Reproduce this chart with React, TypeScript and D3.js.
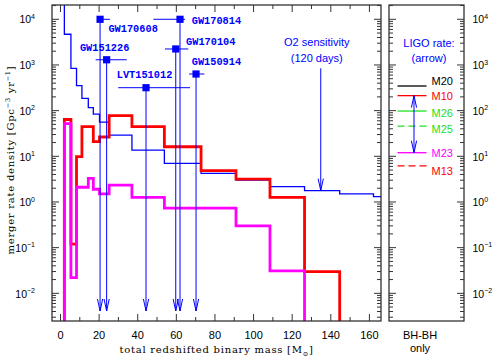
import React from "react";
import * as d3 from "d3";

// ---- data ----
const binEdges = [2.0, 5.4, 8.3, 11.1, 14.4, 17.0, 20.2, 25.2, 37.0, 53.8, 72.8, 90.9, 108.5, 126.4, 144.6, 162.1];
const o2Sensitivity = [4700, 845, 352, 186, 116, 84, 56, 29, 13.7, 7.0, 4.25, 3.0, 2.16, 1.77, 1.5, 1.31];
const modelM10 = [64, 0.12, 9.8, 44.5, 44.5, 21, 26.5, 77.5, 44.5, 16.2, 4.84, 3.18, 1.26, 0.03];
const modelM23 = [52, 0.022, 2.1, 2.1, 3.3, 1.9, 1.5, 2.35, 1.26, 0.73, 0.73, 0.3, 0.031];

const eventNames = ["GW170608", "GW151226", "LVT151012", "GW170104", "GW170814", "GW150914"];
const eventMass = [20.5, 23.9, 44.3, 59.7, 61.9, 70.2];
const eventMassLo = [19.8, 18.2, 29.9, 54.1, 48.1, 66.6];
const eventMassHi = [25.6, 34.3, 67.1, 66.2, 64.5, 74.5];
const eventRate = [10000, 1300, 318, 2240, 10000, 634];

const legendModels = ["M20", "M10", "M26", "M25", "M23", "M13"];
const legendRates = [346, 213, 98, 46, 12, 6.2];
const ligoRateRange = [12, 213];

const o2ArrowMass = 134.8;
const o2ArrowTopRate = 845;
const arrowTipRate = 0.0041;

const xTickValues = [0, 20, 40, 60, 80, 100, 120, 140, 160];
const yTickExponents = [-2, -1, 0, 1, 2, 3, 4];

// ---- styles (kept apart from data) ----
const BLUE = "#0000ff";
const RED = "#ff0000";
const MAGENTA = "#ff00ff";
const GREEN = "#22e022";
const legendColors = ["#000000", RED, GREEN, GREEN, MAGENTA, RED];
const legendDashed = [false, false, false, true, false, true];
const legendLabelDy = [-1, 4, 6.3, 7.3, 4, 9.3];
const labelDx = [8.3, -26.7, -29.3, 10.3, 11.7, -4.3];
const labelDy = [13, -8.5, -9.7, -4.2, 5.2, -9.2];

const SANS = "'Liberation Sans', Arial, Helvetica, sans-serif";
const MONO = "'Liberation Mono', 'Courier New', monospace";
const SERIF = "'DejaVu Serif', serif";

export default function App() {
  const W = 501, H = 360;
  const L = 52, R = 381, T = 5, B = 321;
  const PL = 389, PR = 464;

  const x = d3.scaleLinear().domain([-4.4, 166]).range([L, R]);
  const y = d3.scaleLog().domain([Math.pow(10, -2.606), Math.pow(10, 4.313)]).range([B, T]);
  const [yLo, yHi] = y.domain();

  const line = d3
    .line<[number, number]>()
    .x((d) => x(d[0]))
    .y((d) => y(d[1]))
    .curve(d3.curveStepAfter);

  const bluePts: [number, number][] = [[binEdges[0], yHi * 100]];
  o2Sensitivity.forEach((v, i) => bluePts.push([binEdges[i], v]));
  bluePts.push([x.domain()[1], o2Sensitivity[o2Sensitivity.length - 1]]);

  const closedSteps = (vals: number[]) => {
    const pts: [number, number][] = [[binEdges[0], yLo / 100]];
    vals.forEach((v, i) => pts.push([binEdges[i], v]));
    pts.push([binEdges[vals.length], vals[vals.length - 1]]);
    pts.push([binEdges[vals.length], yLo / 100]);
    return pts;
  };
  const redPts = closedSteps(modelM10);
  const magPts = closedSteps(modelM23);

  const yTicks: { v: number; major: boolean }[] = [];
  for (let e = -3; e <= 4; e++)
    for (let k = 1; k <= 9; k++) {
      const v = k * Math.pow(10, e);
      if (v >= yLo && v <= yHi) yTicks.push({ v, major: k === 1 });
    }
  const xTicks: { v: number; major: boolean }[] = [];
  for (let v = 0; v <= 160; v += 10) xTicks.push({ v, major: v % 20 === 0 });

  const tickColor = "#333";

  const arrowHead = (ax: number, ay: number, dir: 1 | -1) =>
    `M${ax - 2.6},${ay - dir * 12}L${ax},${ay}L${ax + 2.6},${ay - dir * 12}`;

  const expLabel = (e: number) => (e < 0 ? "\u2212" + Math.abs(e) : String(e));

  const o2x = x(o2ArrowMass);
  const o2Bin = d3.bisectRight(binEdges, o2ArrowMass) - 1;
  const o2TipY = y(o2Sensitivity[o2Bin]);

  const legLineX0 = 397.5, legLineX1 = 426.5, legTextX = 431.5;
  const ligoX = 414;

  return (
    <svg
      width={W}
      height={H}
      viewBox={`0 0 ${W} ${H}`}
      style={{ position: "absolute", left: 0, top: 0, background: "#fff" }}
    >
      <defs>
        <clipPath id="plotClip">
          <rect x={L} y={T} width={R - L} height={B - T} />
        </clipPath>
      </defs>
      <rect x={0} y={0} width={W} height={H} fill="#fff" />

      <g clipPath="url(#plotClip)" fill="none">
        <path d={line(bluePts) || ""} stroke={BLUE} strokeWidth={1.3} />
        <path d={line(redPts) || ""} stroke={RED} strokeWidth={2.8} />
        <path d={line(magPts) || ""} stroke={MAGENTA} strokeWidth={2.8} />
      </g>

      <g>
        {eventNames.map((name, i) => {
          const ex = x(eventMass[i]);
          const ey = y(eventRate[i]);
          const tip = y(arrowTipRate);
          return (
            <g key={name}>
              <line x1={ex} x2={ex} y1={ey} y2={tip} stroke={BLUE} strokeWidth={1} />
              <path d={arrowHead(ex, tip, 1)} fill="none" stroke={BLUE} strokeWidth={1} />
              <line x1={x(eventMassLo[i])} x2={x(eventMassHi[i])} y1={ey} y2={ey} stroke={BLUE} strokeWidth={1} />
              <rect x={ex - 3.6} y={ey - 3.6} width={7.2} height={7.2} fill={BLUE} />
              <text
                x={ex + labelDx[i]}
                y={ey + labelDy[i]}
                fill={BLUE}
                fontFamily={MONO}
                fontWeight="bold"
                fontSize={10.3}
              >
                {name}
              </text>
            </g>
          );
        })}
      </g>

      <g fill={BLUE} fontFamily={SANS} fontSize={11} textAnchor="middle">
        <text x={o2x - 4} y={46}>O2 sensitivity</text>
        <text x={o2x - 4} y={62}>(120 days)</text>
      </g>
      <line x1={o2x} x2={o2x} y1={y(o2ArrowTopRate)} y2={o2TipY} stroke={BLUE} strokeWidth={1} />
      <path d={arrowHead(o2x, o2TipY, 1)} fill="none" stroke={BLUE} strokeWidth={1} />

      <rect x={L} y={T} width={R - L} height={B - T} fill="none" stroke="#222" strokeWidth={1.2} />
      <rect x={PL} y={T} width={PR - PL} height={B - T} fill="none" stroke="#222" strokeWidth={1.2} />

      <g stroke={tickColor} strokeWidth={1}>
        {yTicks.map((t, i) => {
          const yy = y(t.v);
          const len = t.major ? 7 : 4;
          return (
            <g key={i}>
              <line x1={L} x2={L + len} y1={yy} y2={yy} />
              <line x1={R} x2={R - len} y1={yy} y2={yy} />
              <line x1={PL} x2={PL + len} y1={yy} y2={yy} />
              <line x1={PR} x2={PR - len} y1={yy} y2={yy} />
            </g>
          );
        })}
        {xTicks.map((t, i) => {
          const xx = x(t.v);
          const len = t.major ? 7 : 4;
          return (
            <g key={"x" + i}>
              <line x1={xx} x2={xx} y1={B} y2={B - len} />
              <line x1={xx} x2={xx} y1={T} y2={T + len} />
            </g>
          );
        })}
      </g>

      <g fontFamily={SANS} fontSize={10.5} fill="#000">
        {yTickExponents.map((e) => (
          <g key={e}>
            <text x={35} y={y(Math.pow(10, e)) + 4.2} textAnchor="end">
              10
              <tspan dy={-4.5} fontSize={7}>
                {expLabel(e)}
              </tspan>
            </text>
            <text x={472.5} y={y(Math.pow(10, e)) + 4.2} textAnchor="start">
              10
              <tspan dy={-4.5} fontSize={7}>
                {expLabel(e)}
              </tspan>
            </text>
          </g>
        ))}
      </g>

      <g fontFamily={SANS} fontSize={11} fill="#000" textAnchor="middle">
        {xTickValues.map((v) => (
          <text key={v} x={x(v)} y={338.5}>
            {v}
          </text>
        ))}
      </g>

      <text
        x={216.5}
        y={353}
        textAnchor="middle"
        fontFamily={SERIF}
        fontSize={10}
        letterSpacing={0.75}
        fill="#000"
      >
        total redshifted binary mass [M
        <tspan dy={2.5} fontSize={6.5}>
          {"\u2299"}
        </tspan>
        <tspan dy={-2.5}>]</tspan>
      </text>
      <text
        transform="translate(13.5,160) rotate(-90)"
        textAnchor="middle"
        fontFamily={SERIF}
        fontSize={10}
        letterSpacing={0.75}
        fill="#000"
      >
        merger rate density [Gpc
        <tspan dy={-4} fontSize={6.5}>
          {"\u22123"}
        </tspan>
        <tspan dy={4}> yr</tspan>
        <tspan dy={-4} fontSize={6.5}>
          {"\u22121"}
        </tspan>
        <tspan dy={4}>]</tspan>
      </text>

      <g fontFamily={SANS} fontSize={11} fill={BLUE} textAnchor="middle">
        <text x={429} y={47}>LIGO rate:</text>
        <text x={429} y={61.5}>(arrow)</text>
      </g>
      <g fontFamily={SANS} fontSize={11}>
        {legendModels.map((m, i) => {
          const yy = y(legendRates[i]);
          return (
            <g key={m}>
              <line
                x1={legLineX0}
                x2={legLineX1}
                y1={yy}
                y2={yy}
                stroke={legendColors[i]}
                strokeWidth={1.3}
                strokeDasharray={legendDashed[i] ? "7,4" : undefined}
              />
              <text x={legTextX} y={yy + legendLabelDy[i]} fill={legendColors[i]}>
                {m}
              </text>
            </g>
          );
        })}
      </g>
      <line x1={ligoX} x2={ligoX} y1={y(ligoRateRange[1])} y2={y(ligoRateRange[0])} stroke={BLUE} strokeWidth={1} />
      <path d={arrowHead(ligoX, y(ligoRateRange[1]), -1)} fill="none" stroke={BLUE} strokeWidth={1} />
      <path d={arrowHead(ligoX, y(ligoRateRange[0]), 1)} fill="none" stroke={BLUE} strokeWidth={1} />

      <g fontFamily={SANS} fontSize={11} fill="#000" textAnchor="middle">
        <text x={420} y={338.5}>BH-BH</text>
        <text x={420} y={352}>only</text>
      </g>
    </svg>
  );
}
